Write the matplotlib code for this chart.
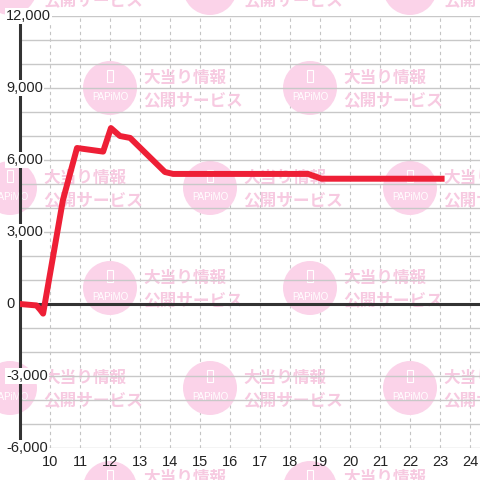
import matplotlib
matplotlib.use('Agg')
import matplotlib.pyplot as plt
from matplotlib.patches import Circle, Rectangle
from matplotlib.transforms import Affine2D, blended_transform_factory

# data: hour of day vs. difference
hours = [9.0, 9.55, 9.68, 9.77, 10.43, 10.9, 11.77, 12.03, 12.33, 12.67, 13.83, 14.1, 18.6, 19.05, 23.05]
values = [0, -60, -250, -400, 4330, 6500, 6350, 7330, 7000, 6920, 5500, 5420, 5420, 5220, 5220]

y_ticks = [-6000, -3000, 0, 3000, 6000, 9000, 12000]
y_labels = ['-6,000', '-3,000', '0', '3,000', '6,000', '9,000', '12,000']
x_ticks = list(range(10, 25))
minor_y = list(range(-6000, 12001, 1000))

# watermark centres (pixels from top-left)
wm_centres = [(10, -12), (210, -12), (410, -12),
              (110, 88), (310, 88),
              (10, 188), (210, 188), (410, 188),
              (110, 288), (310, 288),
              (10, 388), (210, 388), (410, 388),
              (110, 488), (310, 488)]

plt.rcParams['font.family'] = ['Liberation Sans', 'DejaVu Sans']

fig = plt.figure(figsize=(4.8, 4.8), dpi=100)
ax = fig.add_axes([20/480, 32/480, 460/480, 432/480])
ax.set_xlim(9.0, 24.33)
ax.set_ylim(-6000, 12000)

# vertical dashed grid (under the watermark)
for x in x_ticks:
    ax.axvline(x, color='#c4c4c4', lw=0.8, ls=(0, (3, 3)), zorder=0.5)

# watermark
px = Affine2D().scale(1, -1).translate(0, 480)
for cx, cy in wm_centres:
    ax.add_patch(Circle((cx, cy), 27, transform=px, facecolor='#fbd3e9',
                        edgecolor='none', zorder=1, clip_on=False))
    ax.add_patch(Rectangle((cx - 3, cy - 18), 6, 12, transform=px, facecolor='none',
                           edgecolor='white', lw=0.8, zorder=1.1, clip_on=False))
    ax.text(cx, cy + 9, 'PAPiMO', transform=px, ha='center', va='center',
            fontsize=7, color='white', zorder=1.1, clip_on=False)
    ax.text(cx + 33, cy - 10, '大当り情報', transform=px, ha='left', va='center',
            fontsize=12, fontweight='bold', color='#f7cae1', zorder=1,
            family=['Noto Sans CJK JP', 'DejaVu Sans'], clip_on=False)
    ax.text(cx + 33, cy + 12, '公開サービス', transform=px, ha='left', va='center',
            fontsize=12, fontweight='bold', color='#f7cae1', zorder=1,
            family=['Noto Sans CJK JP', 'DejaVu Sans'], clip_on=False)

# horizontal grid
for y in minor_y:
    ax.axhline(y, color='#c8c8c8', lw=1.0, zorder=1.5)

ax.axhline(0, color='#333333', lw=2.2, zorder=2)

ax.plot(hours, values, color='#ee1f36', lw=4.3, zorder=3)

for s in ['top', 'right', 'bottom']:
    ax.spines[s].set_visible(False)
ax.spines['left'].set_color('#333333')
ax.spines['left'].set_linewidth(2.2)

ax.set_xticks(x_ticks)
ax.set_xticklabels([str(x) for x in x_ticks])
ax.tick_params(axis='x', length=0, pad=5, labelsize=10.5, labelcolor='#222222')
ax.set_yticks([])

tr = blended_transform_factory(ax.transAxes, ax.transData)
for y, lab in zip(y_ticks, y_labels):
    ax.text(-14/460, y, lab, transform=tr, ha='left', va='center', fontsize=10.5,
            color='#222222', zorder=5, clip_on=False,
            bbox=dict(facecolor='white', edgecolor='none', pad=1.0))

fig.savefig('out.png', dpi=100)
